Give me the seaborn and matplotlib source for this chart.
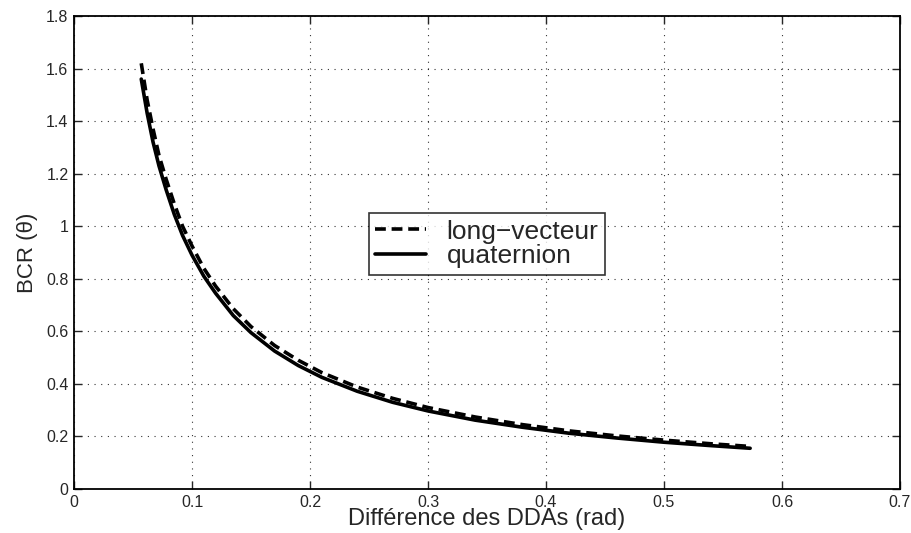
import numpy as np
import pandas as pd
import matplotlib
matplotlib.use('Agg')
import matplotlib.pyplot as plt
import seaborn as sns

# valeurs
ecart_dda = [0.057, 0.062, 0.067, 0.072, 0.078, 0.085, 0.092, 0.1, 0.11, 0.12, 0.135,
             0.15, 0.17, 0.19, 0.21, 0.24, 0.27, 0.3, 0.34, 0.38, 0.42, 0.46,
             0.5, 0.54, 0.573]
bcr_quaternion = [1.56, 1.43, 1.32, 1.23, 1.14, 1.045, 0.965, 0.89, 0.81, 0.745, 0.66,
                  0.595, 0.525, 0.47, 0.425, 0.372, 0.33, 0.297, 0.262, 0.235, 0.212, 0.194,
                  0.178, 0.165, 0.155]
bcr_long_vecteur = [1.62, 1.48, 1.37, 1.27, 1.18, 1.085, 1.0, 0.925, 0.84, 0.772, 0.686,
                    0.618, 0.546, 0.49, 0.443, 0.388, 0.345, 0.31, 0.274, 0.245, 0.221, 0.202,
                    0.186, 0.172, 0.162]

df = pd.DataFrame({
    'x': ecart_dda * 2,
    'y': bcr_long_vecteur + bcr_quaternion,
    'serie': ['long\u2212vecteur'] * len(ecart_dda) + ['quaternion'] * len(ecart_dda),
})

sns.set_style('white')
plt.rcParams['font.family'] = ['Liberation Sans', 'DejaVu Sans']

fig = plt.figure(figsize=(9.11, 5.33), dpi=100)
ax = fig.add_axes([74 / 911, 1 - 489 / 533, 826 / 911, 473 / 533])

sns.lineplot(data=df, x='x', y='y', style='serie', color='black', linewidth=2.6,
             dashes={'long\u2212vecteur': (3, 1.6), 'quaternion': ''}, ax=ax)

ax.set_xlim(0, 0.7)
ax.set_ylim(0, 1.8)
ax.set_xticks(np.arange(0, 0.71, 0.1))
ax.set_yticks(np.arange(0, 1.81, 0.2))
ax.set_xticklabels(['0', '0.1', '0.2', '0.3', '0.4', '0.5', '0.6', '0.7'])
ax.set_yticklabels(['0', '0.2', '0.4', '0.6', '0.8', '1', '1.2', '1.4', '1.6', '1.8'])
ax.grid(True, linestyle=(0, (1, 5)), color='black', linewidth=0.8, alpha=0.8)
ax.tick_params(direction='in', length=6, width=1, labelsize=11.5, top=True, right=True,
               left=True, bottom=True, pad=4)
for sp in ax.spines.values():
    sp.set_visible(True)
    sp.set_color('black')
    sp.set_linewidth(1.3)

ax.set_xlabel('Différence des DDAs (rad)', fontsize=17, labelpad=-1)
ax.set_ylabel('BCR (\u03b8)', fontsize=16, labelpad=6)

leg = ax.legend(loc='center', bbox_to_anchor=(0.5, 0.518), fontsize=19, frameon=True,
                fancybox=False, edgecolor='black', handlelength=1.9, borderpad=0.25,
                labelspacing=0.02, handletextpad=0.8, borderaxespad=0, title=None)
leg.get_frame().set_linewidth(1.2)

fig.savefig('out.png', dpi=100)
